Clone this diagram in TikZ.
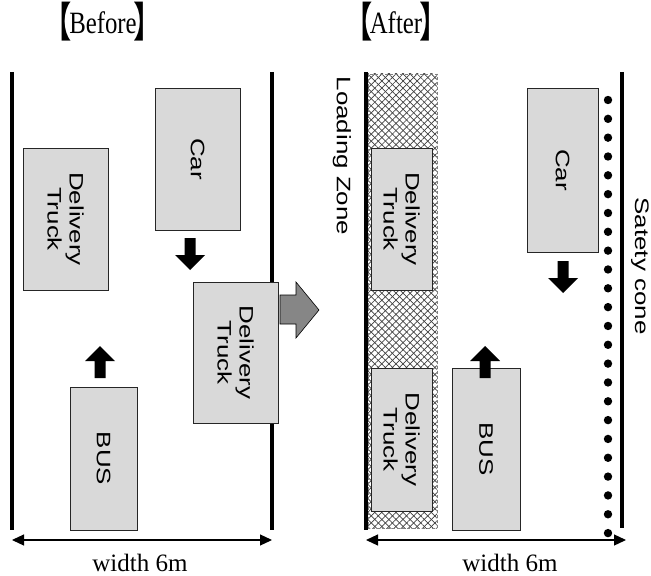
\documentclass[tikz,border=0pt]{standalone}
\usepackage{fontspec}
\setmainfont{Liberation Serif}
\newfontfamily\lblfont[FakeStretch=1.33]{Liberation Sans}
\newfontfamily\ttlfont[FakeStretch=0.8]{Liberation Serif}
\newfontfamily\brk{Noto Sans CJK JP}
\usetikzlibrary{arrows.meta,patterns.meta}
\definecolor{boxgray}{HTML}{D9D9D9}
\newcommand\openbr{\raisebox{-0.12em}{\scalebox{0.95}[1.35]{\brk 【}}}
\newcommand\closebr{\raisebox{-0.12em}{\scalebox{0.95}[1.35]{\brk 】}}}
\newcommand\bracketed[1]{\kern-0.5em\openbr\kern-0.1em#1\kern-0.1em\closebr\kern-0.5em}
\tikzset{
  vehicle/.style={draw=black!85, line width=0.8bp, fill=boxgray, rotate=-90,
    inner sep=0pt, align=center, font=\lblfont\fontsize{19.5bp}{22bp}\selectfont},
  roadline/.style={line width=4bp, black},
  dimline/.style={line width=1.2bp, {Triangle[length=12bp,width=11bp]}-{Triangle[length=12bp,width=11bp]}},
  sidelabel/.style={rotate=-90, inner sep=0pt, font=\lblfont\fontsize{19.5bp}{22bp}\selectfont},
  title/.style={inner sep=0pt, font=\ttlfont\fontsize{31bp}{34bp}\selectfont},
  dimtext/.style={inner sep=0pt, font=\fontsize{25bp}{28bp}\selectfont},
  uparrow/.pic={\fill[black] (-5.5,16) -- (-5.5,-1) -- (-15,-1) -- (0,-16) -- (15,-1) -- (5.5,-1) -- (5.5,16) -- cycle;},
  cone/.style={fill=black}
}
\begin{document}
\begin{tikzpicture}[x=1bp,y=-1bp]
\useasboundingbox (0,0) rectangle (651,576);

% titles
\node[title, anchor=base] (tb) at (103,34) {\bracketed{Before}};
\node[title, anchor=base] (ta) at (396,34) {\bracketed{After}};

% ---------- before ----------
\coordinate (bl1) at (12,72);  \coordinate (bl2) at (12,530);
\coordinate (br1) at (272,72); \coordinate (br2) at (272,530);
\draw[roadline] (bl1) -- (bl2);
\draw[roadline] (br1) -- (br2);

\node[vehicle, minimum width=142bp, minimum height=85bp] (dt1) at (65.5,219) {Delivery\\Truck};
\node[vehicle, minimum width=142bp, minimum height=85bp] (car1) at (197.5,159) {Car};
\node[vehicle, minimum width=141bp, minimum height=85bp] (dt2) at (235.5,352.5) {Delivery\\Truck};
\node[vehicle, minimum width=143bp, minimum height=67bp] (bus1) at (103.5,458.5) {BUS};

\pic[rotate=180] at (190,254) {uparrow};
\pic at (100,362) {uparrow};

\coordinate (bd1) at (12,540); \coordinate (bd2) at (272,540);
\draw[dimline] (bd1) -- (bd2);
\node[dimtext] (bw) at (140,563) {width 6m};

% ---------- transition arrow ----------
\draw[fill=gray!95, line width=0.6bp] (280,295) -- (296,295) -- (296,282) -- (319,310)
  -- (296,338) -- (296,324) -- (280,324) -- cycle;

% ---------- after ----------
\fill[white] (368,74) rectangle (437,528);
\fill[pattern={Lines[angle=45,distance=5bp,line width=0.7bp]}, pattern color=black!75] (368,74) rectangle (437,528);
\fill[pattern={Lines[angle=-45,distance=5bp,line width=0.7bp]}, pattern color=black!75] (368,74) rectangle (437,528);
\draw[gray, line width=0.8bp, densely dashed] (368,74) rectangle (437,528);

\coordinate (al1) at (366,72);  \coordinate (al2) at (366,530);
\coordinate (ar1) at (622,72);  \coordinate (ar2) at (622,528);
\draw[roadline] (al1) -- (al2);
\draw[roadline] (ar1) -- (ar2);

\node[sidelabel] (lz) at (342,156) {Loading Zone};
\node[sidelabel] (sc) at (640,266) {Satety cone};

\node[vehicle, minimum width=142bp, minimum height=61bp] (dt3) at (401.5,219) {Delivery\\Truck};
\node[vehicle, minimum width=143bp, minimum height=61bp] (dt4) at (401.5,439.5) {Delivery\\Truck};
\node[vehicle, minimum width=164bp, minimum height=71bp] (car2) at (562.5,170) {Car};
\node[vehicle, minimum width=162bp, minimum height=68bp] (bus2) at (486,449) {BUS};

\pic[rotate=180] at (563,277) {uparrow};
\pic at (485,362) {uparrow};

\foreach \i in {0,...,23} {
  \fill[cone] (608,{100+\i*18.83}) circle[radius=4.2];
}

\coordinate (ad1) at (366,540); \coordinate (ad2) at (626,540);
\draw[dimline] (ad1) -- (ad2);
\node[dimtext] (aw) at (510,563) {width 6m};
\end{tikzpicture}
\end{document}
